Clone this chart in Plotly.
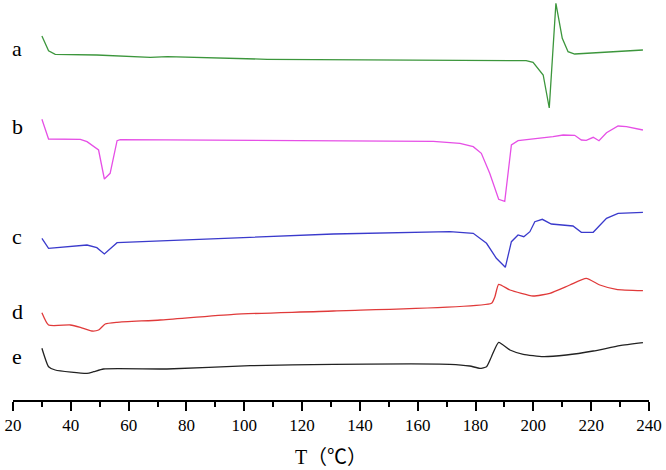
import plotly.graph_objects as go

# Curve a (green)
a_T = [30.0, 32.3, 34.6, 49.0, 67.5, 73.4, 107.9, 130.8, 152.5, 190.6, 197.5, 199.9, 203.4, 205.5, 207.8, 210.0, 212.0, 214.3, 237.9]
a_y = [364, 349.3, 345.7, 345, 342.7, 343.3, 340.7, 340.3, 340, 340, 339.3, 337.7, 325, 292, 396.7, 361.7, 348.3, 346, 350]

# Curve b (magenta)
b_T = [30.0, 32.3, 43.3, 45.6, 49.6, 51.6, 53.6, 56.0, 57.1, 130.8, 165.4, 174.6, 179.2, 182.0, 184.9, 188.0, 190.1, 192.4, 194.7, 206.8, 210.3, 214.3, 216.6, 218.3, 220.7, 222.7, 225.3, 229.3, 232.2, 237.9]
b_y = [280.7, 261, 260.7, 258.3, 250, 221, 226.7, 259.3, 260.3, 259.7, 258.7, 256.7, 253.3, 246.7, 226.7, 200.7, 198.7, 255, 259.3, 263.3, 265, 264.7, 260, 259.7, 262.7, 259.3, 267.3, 274, 273.3, 270]

# Curve c (blue)
c_T = [30.0, 32.3, 45.6, 49.0, 51.6, 56.0, 130.8, 171.1, 179.2, 183.8, 187.2, 190.3, 192.4, 194.7, 196.7, 198.8, 200.5, 203.1, 206.2, 213.7, 216.6, 220.7, 225.3, 229.3, 237.9]
c_y = [161.7, 151.7, 155, 152.3, 146, 157.3, 166, 168.3, 166.7, 156.7, 141.7, 132.7, 158.3, 165, 163.3, 168.3, 178.3, 180.7, 176, 174, 167.7, 167.7, 181.7, 186.7, 187.7]

# Curve d (red)
d_T = [30.0, 32.3, 39.8, 43.3, 47.3, 49.6, 51.9, 56.0, 70.9, 96.3, 130.8, 185.5, 186.7, 188.0, 191.9, 199.9, 205.7, 212.6, 218.3, 223.0, 228.7, 237.9]
d_y = [87.3, 75, 75, 72.7, 69, 70, 76, 77.7, 80, 85.7, 89, 96.7, 103.3, 115.7, 110, 104, 106.7, 115, 121.7, 115, 110.7, 109.3]

# Curve e (black)
e_T = [30.0, 32.3, 34.6, 45.6, 47.9, 51.3, 73.2, 102.1, 130.8, 171.1, 178.0, 181.5, 183.8, 185.5, 188.0, 191.9, 196.5, 203.4, 211.4, 220.7, 229.9, 237.9]
e_y = [51.7, 33.3, 30, 26.7, 28.3, 31, 31, 34.3, 35.7, 35.7, 34, 31.7, 33.3, 43.3, 57.7, 50, 45.7, 43.3, 45, 49, 54.3, 57.3]

labels = ["a", "b", "c", "d", "e"]
label_y = [351.7, 273.3, 164, 88.3, 43.3]
colors = ["#3c963c", "#e64fe6", "#3a3acc", "#e03a3a", "#222222"]
series = [(a_T, a_y), (b_T, b_y), (c_T, c_y), (d_T, d_y), (e_T, e_y)]
shapes = ["linear", "linear", "linear", "spline", "spline"]

x_ticks = list(range(20, 241, 20))

fig = go.Figure()
for (xs, ys), col, shp in zip(series, colors, shapes):
    line = dict(color=col, width=1.3, shape=shp)
    if shp == "spline":
        line["smoothing"] = 0.5
    fig.add_trace(go.Scatter(x=xs, y=ys, mode="lines", line=line,
                             showlegend=False, hoverinfo="skip"))

serif = "Liberation Serif, Times New Roman, serif"
for lab, ly in zip(labels, label_y):
    fig.add_annotation(x=21.5, y=ly, text=lab, showarrow=False,
                       xanchor="center", yanchor="middle",
                       font=dict(family=serif, size=22, color="black"))

fig.update_layout(
    width=666, height=470,
    margin=dict(l=13, r=17, t=0, b=70),
    paper_bgcolor="white", plot_bgcolor="white",
    xaxis=dict(
        range=[20, 240], showgrid=False, zeroline=False,
        showline=True, linecolor="black", linewidth=1.5,
        tickmode="array", tickvals=x_ticks, ticktext=[str(t) for t in x_ticks],
        ticks="outside", ticklen=9, tickwidth=1.5, tickcolor="black",
        minor=dict(dtick=10, ticks="outside", ticklen=5, tickwidth=1.5, tickcolor="black"),
        tickfont=dict(family=serif, size=17, color="black"),
        title=dict(text="T（℃）", font=dict(family="Liberation Serif, Noto Sans CJK SC", size=20, color="black"), standoff=16),
    ),
    yaxis=dict(range=[0, 400], visible=False),
)

fig.write_html("out.html", config={"displayModeBar": False},
               post_script="document.body.style.margin='0';")
